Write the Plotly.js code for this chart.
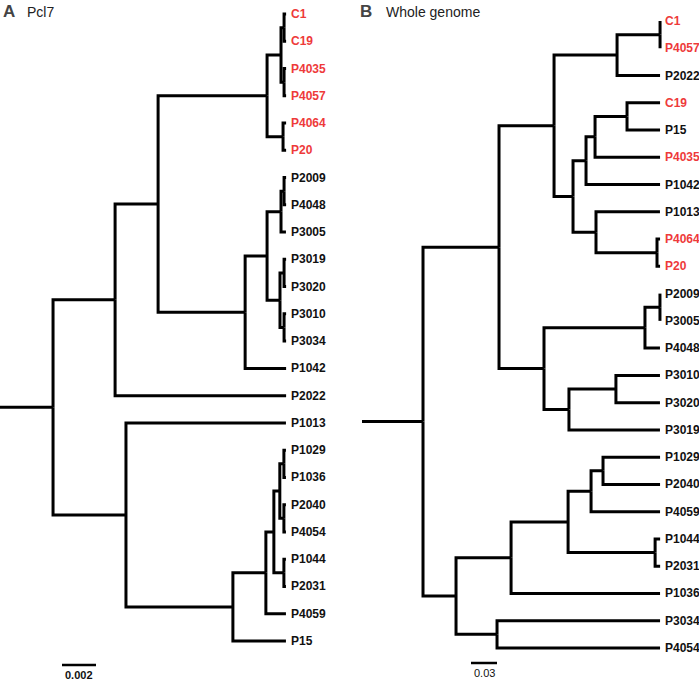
<!DOCTYPE html>
<html>
<head>
<meta charset="utf-8">
<script src="https://cdn.plot.ly/plotly-3.0.1.min.js"></script>
<style>html,body{margin:0;padding:0;background:#fff;}#chart{width:699px;height:680px;}</style>
</head>
<body>
<div id="chart"></div>
<script>
// ---------- Tree A: Pcl7 (node, parent, branch length) ----------
const nodesA = ["R","U1","U2","U3","U4","U5","C1","C19","U6","P4035","P4057","U7","P4064","P20",
  "U8","U9","U10","U11","P2009","P4048","P3005","U12","U13","P3019","P3020","U14","P3010","P3034",
  "P1042","P2022","L1","P1013","L2","L3","L4","L5","L6","P1029","P1036","L7","P2040","P4054",
  "L8","P1044","P2031","P4059","P15"];
const parentsA = [null,"R","U1","U2","U3","U4","U5","U5","U4","U6","U6","U3","U7","U7",
  "U2","U8","U9","U10","U11","U11","U10","U9","U12","U13","U13","U12","U14","U14",
  "U8","U1","R","L1","L1","L2","L3","L4","L5","L6","L6","L5","L7","L7",
  "L4","L8","L8","L3","L2"];
const lengthsA = [0.00312,0.00365,0.00253,0.00641,0.00082,0.00018,0.00012,0.00012,0.00018,0.00012,0.00012,0.00094,0.00018,0.00018,
  0.00512,0.00129,0.00082,0.00018,0.00012,0.00012,0.00029,0.00076,0.00024,0.00012,0.00012,0.00024,0.00012,0.00012,
  0.00241,0.01006,0.00429,0.00941,0.00629,0.00194,0.00047,0.00035,0.00024,0.00012,0.00012,0.00024,0.00012,0.00012,
  0.00059,0.00012,0.00012,0.00118,0.00312];
const redA = ["C1","C19","P4035","P4057","P4064","P20"];
const scaleA = 0.002;
const scaleLabelA = "0.002";

// ---------- Tree B: Whole genome ----------
const nodesB = ["R","U1","U2","U3","U3a","C1","P4057","P2022","U4","U5","U6","U7","C19","P15","P4035","P1042",
  "U8","P1013","U9","P4064","P20","U10","U11","U12","P2009","P3005","P4048","U13","U14","P3010","P3020","P3019",
  "L1","L2","L3","L4","L5","P1029","P2040","P4059","L6","P1044","P2031","P1036","L7","P3034","P4054"];
const parentsB = [null,"R","U1","U2","U3","U3a","U3a","U3","U2","U4","U5","U6","U7","U7","U6","U5",
  "U4","U8","U8","U9","U9","U1","U10","U11","U12","U12","U11","U10","U13","U14","U14","U13",
  "R","L1","L2","L3","L4","L5","L5","L4","L3","L6","L6","L2","L1","L7","L7"];
const lengthsB = [0.0704,0.0877,0.0635,0.0727,0.0496,0,0,0.0496,0.0219,0.0150,0.0104,0.0369,0.0381,0.0381,0.0750,0.0854,
  0.0265,0.0738,0.0704,0.0035,0.0035,0.0519,0.1165,0.0173,0,0,0.0173,0.0288,0.0542,0.0508,0.0508,0.1050,
  0.0381,0.0635,0.0658,0.0265,0.0138,0.0658,0.0658,0.0796,0.1004,0.0058,0.0058,0.1719,0.0473,0.1881,0.1881];
const redB = ["C1","P4057","C19","P4035","P4064","P20"];
const scaleB = 0.03;
const scaleLabelB = "0.03";

const RED = "#ee3a3a";

function layoutTree(nodes, parents, lengths) {
  const kids = {}; const x = {}; const y = {};
  nodes.forEach(n => kids[n] = []);
  let root = null;
  nodes.forEach((n, i) => { if (parents[i] === null) root = n; else kids[parents[i]].push(n); });
  const len = {}; const par = {};
  nodes.forEach((n, i) => { len[n] = lengths[i]; par[n] = parents[i]; });
  let leafIdx = 0; const leaves = [];
  function walk(n, px) {
    x[n] = px + len[n];
    if (kids[n].length === 0) { y[n] = leafIdx++; leaves.push(n); return; }
    kids[n].forEach(k => walk(k, x[n]));
    const ks = kids[n];
    y[n] = (y[ks[0]] + y[ks[ks.length - 1]]) / 2;
  }
  walk(root, 0);
  const lx = [], ly = [];
  // root stub
  lx.push(0, x[root], null); ly.push(y[root], y[root], null);
  nodes.forEach(n => {
    const p = par[n];
    if (p === null) return;
    lx.push(x[p], x[p], x[n], null);
    ly.push(y[p], y[n], y[n], null);
  });
  return {x, y, leaves, lx, ly};
}

const tA = layoutTree(nodesA, parentsA, lengthsA);
const tB = layoutTree(nodesB, parentsB, lengthsB);

// pixel geometry constants
const pxA = 0.002 / 34, pxB = 0.03 / 26, rowH = 27.26;
const W = 699, H = 680;
const bStart = 362;

const traces = [
  {x: tA.lx, y: tA.ly, mode: "lines", line: {color: "#000", width: 3}, xaxis: "x", yaxis: "y", hoverinfo: "skip"},
  {x: tB.lx, y: tB.ly, mode: "lines", line: {color: "#000", width: 3}, xaxis: "x2", yaxis: "y2", hoverinfo: "skip"},
  {x: [62 * pxA, 62 * pxA + scaleA], y: [(665 - 14) / rowH, (665 - 14) / rowH], mode: "lines",
   line: {color: "#000", width: 2.5}, xaxis: "x", yaxis: "y", hoverinfo: "skip"},
  {x: [(471 - bStart) * pxB, (471 - bStart) * pxB + scaleB], y: [(663 - 21) / rowH, (663 - 21) / rowH], mode: "lines",
   line: {color: "#000", width: 2.5}, xaxis: "x2", yaxis: "y2", hoverinfo: "skip"}
];

const annotations = [];
tA.leaves.forEach(n => annotations.push({
  x: tA.x[n], y: tA.y[n], xref: "x", yref: "y", text: n, showarrow: false,
  xanchor: "left", yanchor: "middle", xshift: 3,
  font: {family: "Liberation Sans, Arial", size: 12, weight: "bold", color: redA.includes(n) ? RED : "#111"}
}));
tB.leaves.forEach(n => annotations.push({
  x: tB.x[n], y: tB.y[n], xref: "x2", yref: "y2", text: n, showarrow: false,
  xanchor: "left", yanchor: "middle", xshift: 3,
  font: {family: "Liberation Sans, Arial", size: 12, weight: "bold", color: redB.includes(n) ? RED : "#111"}
}));
annotations.push({
  x: 62 * pxA + scaleA / 2, y: (665 - 14) / rowH, xref: "x", yref: "y", text: scaleLabelA, showarrow: false,
  xanchor: "center", yanchor: "top", yshift: -2,
  font: {family: "Liberation Sans, Arial", size: 11, weight: "bold", color: "#111"}
});
annotations.push({
  x: (471 - bStart) * pxB + scaleB / 2, y: (663 - 21) / rowH, xref: "x2", yref: "y2", text: scaleLabelB, showarrow: false,
  xanchor: "center", yanchor: "top", yshift: -2,
  font: {family: "Liberation Sans Narrow, Liberation Sans, Arial", size: 11, color: "#111"}
});
// panel titles
annotations.push({x: 1 / W, y: 1 - 11 / H, xref: "paper", yref: "paper", text: "A", showarrow: false,
  xanchor: "left", yanchor: "middle", font: {family: "Liberation Sans, Arial", size: 17, weight: "bold", color: "#444"}});
annotations.push({x: 25 / W, y: 1 - 12 / H, xref: "paper", yref: "paper", text: "Pcl7", showarrow: false,
  xanchor: "left", yanchor: "middle", font: {family: "Liberation Sans, Arial", size: 14, color: "#222"}});
annotations.push({x: 358 / W, y: 1 - 11 / H, xref: "paper", yref: "paper", text: "B", showarrow: false,
  xanchor: "left", yanchor: "middle", font: {family: "Liberation Sans, Arial", size: 17, weight: "bold", color: "#444"}});
annotations.push({x: 384 / W, y: 1 - 12 / H, xref: "paper", yref: "paper", text: "Whole genome", showarrow: false,
  xanchor: "left", yanchor: "middle", font: {family: "Liberation Sans, Arial", size: 14, color: "#222"}});

const hidden = {showgrid: false, zeroline: false, showticklabels: false, ticks: "", showline: false, fixedrange: true};
const layout = {
  width: W, height: H, margin: {l: 0, r: 0, t: 0, b: 0},
  paper_bgcolor: "#fff", plot_bgcolor: "rgba(0,0,0,0)", showlegend: false,
  xaxis: Object.assign({domain: [0, 0.5], range: [0, 0.5 * W * pxA]}, hidden),
  yaxis: Object.assign({domain: [0, 1], range: [(H - 14) / rowH, -14 / rowH]}, hidden),
  xaxis2: Object.assign({domain: [bStart / W, 1], range: [0, (W - bStart) * pxB], anchor: "y2"}, hidden),
  yaxis2: Object.assign({domain: [0, 1], range: [(H - 21) / rowH, -21 / rowH], anchor: "x2"}, hidden),
  annotations: annotations
};
Plotly.newPlot("chart", traces, layout, {staticPlot: true, displayModeBar: false});
</script>
</body>
</html>
